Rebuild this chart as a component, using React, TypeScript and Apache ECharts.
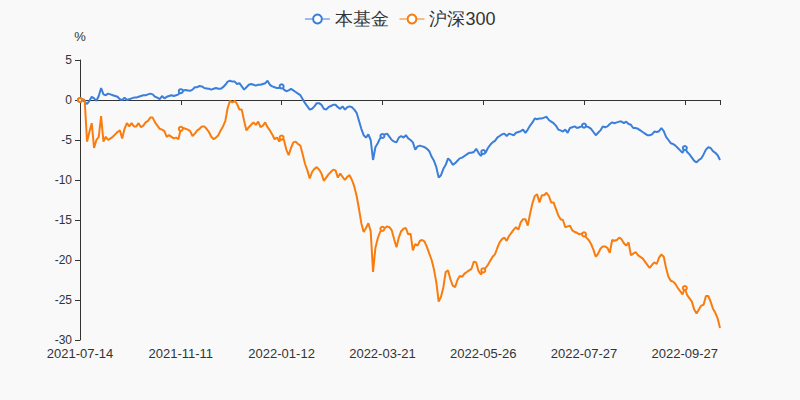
import React, { useEffect, useRef } from 'react';
import * as echarts from 'echarts';

// Early weekly NAV dates (fund build period), then daily trading days
const HEAD_DATES = ['2021-07-14', '2021-07-16', '2021-07-23', '2021-07-30', '2021-08-06', '2021-08-13', '2021-08-20', '2021-08-27', '2021-09-03', '2021-09-10'];
const DAILY_START = '2021-09-16';
const DAILY_END = '2022-10-25';
const HOLIDAYS = ['2021-09-20', '2021-09-21', '2021-10-01', '2021-10-04', '2021-10-05', '2021-10-06', '2021-10-07', '2022-01-03', '2022-01-31', '2022-02-01', '2022-02-02', '2022-02-03', '2022-02-04', '2022-04-04', '2022-04-05', '2022-05-02', '2022-05-03', '2022-05-04', '2022-06-03', '2022-09-12', '2022-10-03', '2022-10-04', '2022-10-05', '2022-10-06', '2022-10-07'];

function tradingDays(start: string, end: string, holidays: string[]): string[] {
  const out: string[] = [];
  const [sy, sm, sd] = start.split('-').map(Number);
  const [ey, em, ed] = end.split('-').map(Number);
  let t = Date.UTC(sy, sm - 1, sd);
  const e = Date.UTC(ey, em - 1, ed);
  while (t <= e) {
    const d = new Date(t);
    const wd = d.getUTCDay();
    const s = d.toISOString().slice(0, 10);
    if (wd !== 0 && wd !== 6 && holidays.indexOf(s) < 0) out.push(s);
    t += 86400000;
  }
  return out;
}

const DATES = HEAD_DATES.concat(tradingDays(DAILY_START, DAILY_END, HOLIDAYS));

const FUND = [
  0, 0.0, -0.2, -0.5, -0.1, 0.4, 0.2, -0.1, 0.5, 1.5,
  0.7, 0.6, 0.8, 0.7, 0.6, 0.5, 0.4, 0.1, 0.0, 0.3,
  0.0, 0.1, 0.2, 0.3, 0.3, 0.4, 0.5, 0.6, 0.6, 0.7,
  0.8, 0.7, 0.4, 0.3, 0.1, 0.5, 0.2, 0.4, 0.5, 0.6,
  0.5, 0.6, 0.7, 1.1,
  1.2, 1.25, 1.2, 1.15, 1.3, 1.6, 1.6, 1.75, 1.7, 1.5,
  1.45, 1.4, 1.3, 1.4, 1.5, 1.4, 1.4, 1.6, 1.9, 2.3,
  2.4, 2.3, 2.3, 2.0, 2.1, 1.7, 1.3, 1.6, 1.9, 2.0,
  1.9, 1.8, 1.9, 1.9, 2.0, 2.1, 2.4, 1.9, 1.7, 1.6,
  1.5, 1.5, 1.7,
  1.3, 1.1, 1.2, 1.4, 1.2, 1.0, 0.8, 0.6, 0.1, -0.4,
  -0.8, -1.2, -1.1, -0.8, -0.4, -0.4, -0.6, -1.1, -1.2, -0.9,
  -0.75, -0.6, -0.6, -0.9, -1.1, -0.8, -1.2, -0.9, -0.8, -0.9,
  -1.2, -1.6, -2.6, -3.6, -4.4, -4.7, -4.3, -5.0, -7.5, -5.9,
  -5.4, -4.8, -4.5,
  -4.3, -4.2, -4.6, -5.0, -5.2, -5.3, -4.7, -4.5, -4.7, -4.4,
  -4.8, -5.0, -5.3, -6.2, -5.8, -5.7, -5.8, -5.9, -6.1, -6.4,
  -7.1, -7.6, -8.4, -9.7, -9.4, -8.6, -8.1, -7.3, -7.6, -8.1,
  -7.9, -7.6, -7.3, -7.2, -7.0, -6.8, -6.6, -6.6, -6.5, -6.1,
  -6.6, -7.0, -6.5,
  -6.6, -6.0, -5.6, -5.3, -5.1, -4.7, -4.5, -4.3, -4.2, -4.5,
  -4.2, -4.3, -4.4, -4.1, -4.0, -3.9, -3.7, -4.1, -3.7, -3.2,
  -2.8, -2.3, -2.4, -2.3, -2.3, -2.2, -2.1, -2.5, -2.7, -2.9,
  -3.2, -3.7, -3.8, -3.95, -3.7, -4.1, -3.5, -3.4, -3.3, -3.5,
  -3.4, -3.3, -3.2,
  -3.3, -3.4, -3.6, -4.0, -4.4, -4.1, -3.8, -3.3, -3.4, -3.3,
  -3.0, -2.8, -2.9, -2.8, -2.7, -2.7, -2.9, -2.7, -3.0, -3.1,
  -3.5, -3.5, -3.6, -3.8, -4.0, -4.2, -4.4, -4.4, -4.3, -3.95,
  -4.0, -3.9, -3.5, -3.9, -4.6, -5.0, -5.4, -5.5, -5.7, -6.0,
  -6.3, -6.6, -6.0, -6.5, -6.8, -7.2, -7.6, -7.8, -7.5, -7.3,
  -6.8, -6.2, -5.9, -6.0, -6.4, -6.6, -6.9, -7.5,
];

const HS300 = [
  0, 0.1, 0, -5.2, -4.0, -2.9, -6.0, -5.0, -4.6, -2.0,
  -5.2, -4.6, -5.0, -4.8, -4.6, -4.3, -4.0, -3.8, -4.8, -3.6,
  -2.9, -3.3, -2.9, -3.3, -3.3, -2.9, -3.4, -3.2, -2.8, -2.6,
  -2.2, -2.2, -2.8, -3.2, -3.6, -3.7, -3.9, -4.6, -4.4, -4.6,
  -4.8, -4.7, -4.9, -3.6,
  -3.5, -3.6, -3.7, -3.9, -4.5, -4.2, -3.8, -3.6, -3.3, -3.3,
  -3.6, -4.0, -4.6, -4.9, -4.7, -4.4, -3.8, -3.3, -2.6, -1.0,
  -0.1, -0.3, -0.1, -0.5, -1.2, -1.2, -2.6, -3.8, -3.4, -3.1,
  -2.8, -3.1, -2.7, -3.4, -3.2, -2.8, -3.4, -3.8, -4.3, -4.9,
  -4.7, -5.2, -4.7,
  -5.0, -6.2, -6.9, -6.0, -5.3, -5.2, -5.5, -5.7, -6.8, -8.0,
  -8.8, -9.8, -9.0, -8.6, -8.4, -8.7, -9.2, -10.1, -9.7, -9.3,
  -9.0, -8.7, -8.8, -9.7, -9.2, -9.6, -10.0, -9.6, -9.4, -10.0,
  -10.8, -12.0, -13.6, -15.4, -16.5, -16.0, -15.4, -16.4, -21.5, -18.5,
  -17.3, -16.5, -16.1,
  -16.0, -15.8, -15.9, -16.3, -17.4, -18.4, -17.2, -16.4, -16.1, -16.0,
  -16.8, -16.7, -18.8, -18.0, -18.2, -17.6, -17.5, -17.7, -18.4, -19.2,
  -20.0, -21.2, -22.8, -25.2, -24.6, -23.4, -21.5, -21.3, -22.4, -23.2,
  -23.4, -22.5, -22.0, -22.1, -21.7, -21.5, -21.3, -21.1, -20.2, -20.3,
  -21.4, -21.8, -21.3,
  -21.0, -20.6, -20.1, -19.6, -19.3, -18.5, -17.8, -17.4, -17.2, -17.6,
  -17.0, -16.6, -16.2, -15.9, -16.2, -15.3, -14.9, -14.9, -15.7, -14.2,
  -12.9, -12.0, -11.8, -12.8, -11.9, -11.9, -11.6, -12.0, -12.8, -12.8,
  -13.6, -14.4, -14.9, -15.0, -15.9, -15.8, -15.7, -16.3, -16.5, -16.6,
  -16.8, -16.7, -16.8,
  -17.2, -17.5, -18.0, -18.7, -19.6, -19.2, -18.6, -18.3, -18.3, -18.5,
  -19.1, -17.5, -17.6, -17.5, -17.2, -17.4, -17.9, -18.2, -17.8, -19.4,
  -19.2, -19.0, -19.4, -19.6, -19.8, -20.2, -20.6, -21.0, -20.6, -20.3,
  -20.5, -19.7, -19.3, -19.6, -21.0, -22.1, -22.6, -22.7, -23.0, -23.5,
  -23.9, -24.3, -23.5, -24.4, -24.8, -25.2, -26.2, -26.7, -26.2, -25.7,
  -25.6, -24.5, -24.5, -25.2, -26.1, -26.6, -27.3, -28.5,
];

const SERIES_NAMES = ['本基金', '沪深300'];
const Y_MIN = -30;
const Y_MAX = 5;
const Y_STEP = 5;
const LABEL_STEP = 43;

const BLUE = '#3b7fdb';
const ORANGE = '#f97d0e';
const AXIS = '#333';

export default function App() {
  const ref = useRef<HTMLDivElement>(null);
  useEffect(() => {
    document.body.style.margin = '0';
    document.body.style.background = '#f9f9f9';
    const chart = echarts.init(ref.current!, null, { renderer: 'svg' });
    const last = DATES.length - 1;
    chart.setOption({
      animation: false,
      backgroundColor: '#f9f9f9',
      legend: {
        top: 5,
        left: 'center',
        itemWidth: 25,
        itemHeight: 11,
        itemGap: 10,
        lineStyle: { width: 1 },
        itemStyle: { borderWidth: 1 },
        textStyle: { fontSize: 18, color: '#333' },
        data: SERIES_NAMES,
      },
      grid: { left: 80, right: 80, top: 60, bottom: 60, containLabel: false },
      xAxis: [
        {
          type: 'category',
          data: DATES,
          boundaryGap: false,
          axisLine: { show: false, onZero: false },
          axisTick: { show: false },
          splitLine: { show: false },
          axisLabel: { interval: LABEL_STEP - 1, color: AXIS, fontSize: 13, lineHeight: 13, margin: 7 },
        },
        {
          type: 'category',
          data: DATES,
          boundaryGap: false,
          position: 'bottom',
          axisLine: { show: true, onZero: true, lineStyle: { color: AXIS } },
          axisTick: {
            show: true,
            length: 5,
            lineStyle: { color: AXIS },
            interval: (i: number) => i % LABEL_STEP === 0 || i === last,
          },
          axisLabel: { show: false },
          splitLine: { show: false },
        },
      ],
      yAxis: {
        type: 'value',
        min: Y_MIN,
        max: Y_MAX,
        interval: Y_STEP,
        name: '%',
        nameGap: 17,
        nameTextStyle: { color: AXIS, fontSize: 13 },
        axisLine: { show: true, lineStyle: { color: AXIS } },
        axisTick: { show: true, length: 5, lineStyle: { color: AXIS } },
        splitLine: { show: false },
        axisLabel: { color: AXIS, fontSize: 12, lineHeight: 12 },
      },
      series: [
        {
          name: SERIES_NAMES[0],
          type: 'line',
          data: FUND,
          xAxisIndex: 0,
          symbol: 'emptyCircle',
          symbolSize: 4,
          lineStyle: { width: 2, color: BLUE },
          itemStyle: { color: BLUE },
        },
        {
          name: SERIES_NAMES[1],
          type: 'line',
          data: HS300,
          xAxisIndex: 0,
          symbol: 'emptyCircle',
          symbolSize: 4,
          lineStyle: { width: 2, color: ORANGE },
          itemStyle: { color: ORANGE },
        },
      ],
    });
    return () => chart.dispose();
  }, []);
  return <div ref={ref} style={{ width: 800, height: 400 }} />;
}
